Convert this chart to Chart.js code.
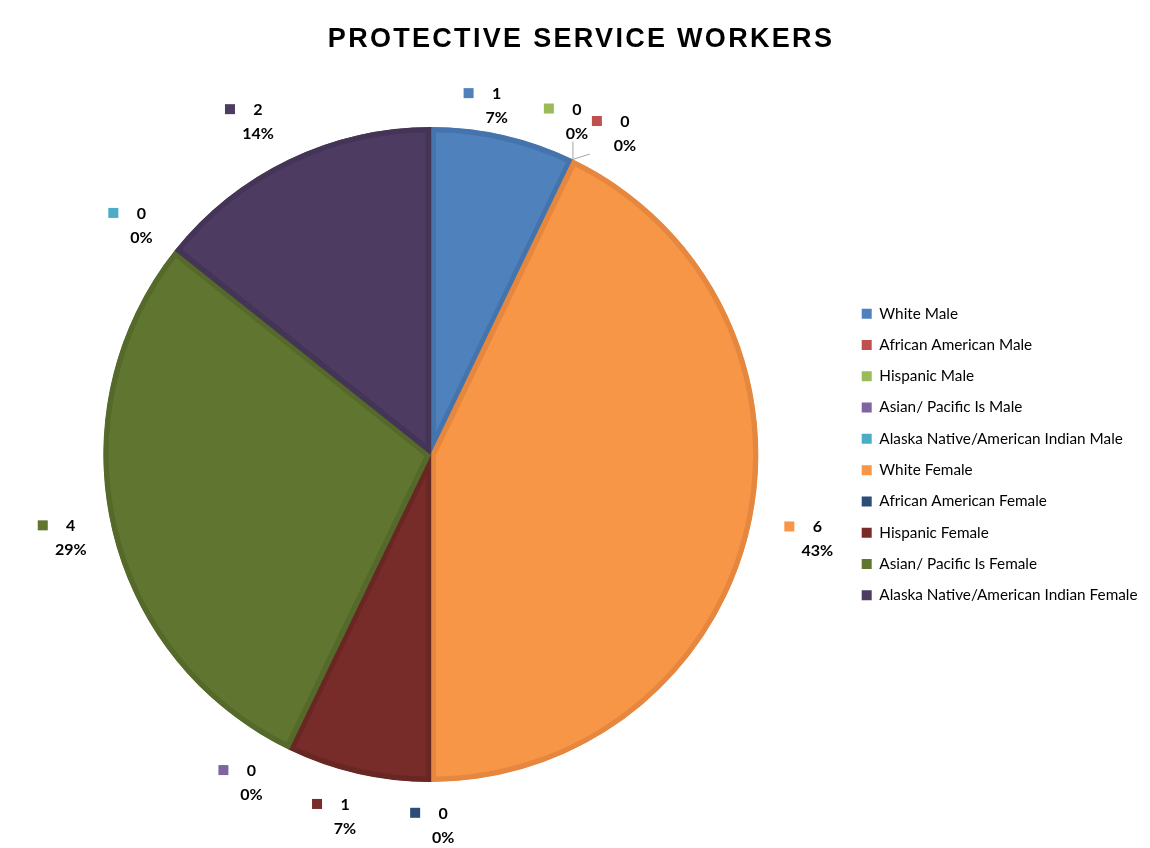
<!DOCTYPE html>
<html>
<head>
<meta charset="utf-8">
<title>Protective Service Workers</title>
<script src="https://cdn.jsdelivr.net/npm/chart.js@4.4.0/dist/chart.umd.min.js"></script>
<style>
  html, body { margin: 0; padding: 0; background: #fff; }
</style>
</head>
<body>
<canvas id="grafico-pizza" width="1150" height="848"></canvas>
<script>
// categorias e contagens
const titulo = "PROTECTIVE SERVICE WORKERS";
const categorias = [
  "White Male",
  "African American Male",
  "Hispanic Male",
  "Asian/ Pacific Is Male",
  "Alaska Native/American Indian Male",
  "White Female",
  "African American Female",
  "Hispanic Female",
  "Asian/ Pacific Is Female",
  "Alaska Native/American Indian Female"
];
const valores = [1, 0, 0, 0, 0, 6, 0, 1, 4, 2];

// cores das fatias e das bordas (um tom mais escuro)
const cores = ["#4F81BD", "#C0504D", "#9BBB59", "#8064A2", "#4BACC6",
               "#F79646", "#2C4D75", "#772C2A", "#5F7530", "#4D3B62"];
const bordas = ["#4573AB", "#AD4643", "#8AA84E", "#715890", "#4299B0",
                "#E5873E", "#264468", "#692724", "#54692A", "#443456"];

// ajuste dos rotulos: [desvio do angulo em graus, distancia alem do raio]
const posicaoRotulos = [
  [-2.2, 28], [5.4, 48], [-2.1, 37], [183, 46], [282.7, 42],
  [-0.6, 68], [-1.9, 43], [0.5, 44], [-0.1, 42], [-1.7, 48]
];
// rotulos ligados a fatia por uma linha
const comLinha = [1, 2];

const total = valores.reduce((a, b) => a + b, 0);

// desenha o titulo, os rotulos (quadrado, valor e percentagem) e as linhas guia
const rotulosPlugin = {
  id: "rotulos",
  afterDatasetsDraw(chart) {
    const ctx = chart.ctx;
    const meta = chart.getDatasetMeta(0);
    ctx.save();

    meta.data.forEach((arc, i) => {
      const { x, y, startAngle, endAngle, outerRadius } =
        arc.getProps(["x", "y", "startAngle", "endAngle", "outerRadius"], true);
      const [desvio, dist] = posicaoRotulos[i];
      const ang = (startAngle + endAngle) / 2 + desvio * Math.PI / 180;
      const cx = x + Math.cos(ang) * (outerRadius + dist);
      const cy = y + Math.sin(ang) * (outerRadius + dist);

      const valor = String(valores[i]);
      const pct = Math.round(valores[i] / total * 100) + "%";

      ctx.font = 'bold 16px Lato';
      const larg = Math.max(ctx.measureText(valor).width, ctx.measureText(pct).width);

      // linha guia
      if (comLinha.includes(i)) {
        const ex = x + Math.cos(startAngle) * outerRadius;
        const ey = y + Math.sin(startAngle) * outerRadius;
        const left = cx - 35, right = cx + larg / 2 + 2;
        const top = cy - 24, bottom = cy + 21;
        const px = Math.min(Math.max(ex, left), right);
        const py = Math.min(Math.max(ey, top), bottom);
        ctx.strokeStyle = "#A6A6A6";
        ctx.lineWidth = 1;
        ctx.beginPath();
        ctx.moveTo(ex, ey);
        ctx.lineTo(px, py);
        ctx.stroke();
      }

      ctx.fillStyle = cores[i];
      ctx.fillRect(cx - 33, cy - 17, 10, 10);

      ctx.fillStyle = "#000";
      ctx.textAlign = "center";
      ctx.textBaseline = "alphabetic";
      ctx.fillText(valor, cx, cy - 6);
      ctx.fillText(pct, cx, cy + 18);
    });

    ctx.restore();
  },
  afterDraw(chart) {
    const ctx = chart.ctx;
    ctx.save();
    ctx.font = 'bold 27px "Liberation Sans"';
    ctx.letterSpacing = "2.3px";
    ctx.fillStyle = "#000";
    ctx.textAlign = "center";
    ctx.textBaseline = "alphabetic";
    ctx.fillText(titulo, 581, 47);
    ctx.restore();
  }
};

function desenharGrafico() {
  const ctx = document.getElementById("grafico-pizza").getContext("2d");
  new Chart(ctx, {
    type: "pie",
    data: {
      labels: categorias,
      datasets: [{
        data: valores,
        backgroundColor: cores,
        borderColor: bordas,
        borderWidth: 5,
        borderAlign: "inner"
      }]
    },
    options: {
      responsive: false,
      animation: false,
      layout: {
        padding: { top: 127, bottom: 66, left: 16, right: 2.5 }
      },
      plugins: {
        tooltip: { enabled: false },
        legend: {
          position: "right",
          align: "center",
          labels: {
            boxWidth: 10,
            boxHeight: 10,
            padding: 16,
            color: "#262626",
            font: { family: "Lato", size: 15.3 },
            generateLabels: () => categorias.map((nome, i) => ({
              text: nome,
              fillStyle: cores[i],
              strokeStyle: cores[i],
              lineWidth: 0,
              hidden: false,
              index: i
            }))
          }
        }
      }
    },
    plugins: [rotulosPlugin]
  });
}

Promise.all([
  document.fonts.load('15px Lato'),
  document.fonts.load('bold 16px Lato'),
  document.fonts.load('bold 27px "Liberation Sans"')
]).then(desenharGrafico, desenharGrafico);
</script>
</body>
</html>
